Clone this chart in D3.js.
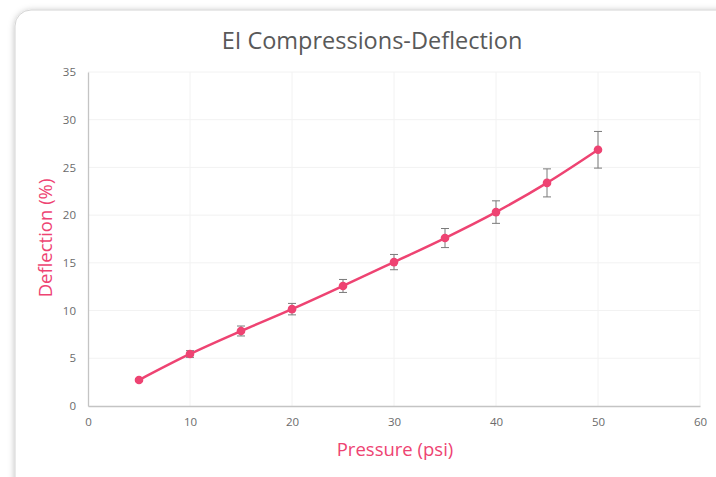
<!DOCTYPE html>
<html><head><meta charset="utf-8">
<script src="https://cdn.jsdelivr.net/npm/d3@7"></script>
<style>
html,body{margin:0;padding:0;background:#ffffff;}
svg{display:block;}
</style></head>
<body>
<svg id="chart" width="716" height="477"></svg>
<script>
const pressure = [5, 10, 15, 20, 25, 30, 35, 40, 45, 50];
const deflection = [2.72, 5.45, 7.86, 10.15, 12.58, 15.08, 17.6, 20.32, 23.38, 26.85];
const errorBar = [0.15, 0.35, 0.52, 0.6, 0.68, 0.8, 1.0, 1.18, 1.47, 1.92];
const xTicks = [0, 10, 20, 30, 40, 50, 60];
const yTicks = [0, 5, 10, 15, 20, 25, 30, 35];
const title = "EI Compressions-Deflection";
const xTitle = "Pressure (psi)";
const yTitle = "Deflection (%)";

const svg = d3.select("#chart");
const font = "'Open Sans', sans-serif";
const pink = "#ee4372";

// card with shadow
const defs = svg.append("defs");
const f = defs.append("filter").attr("id","sh").attr("x","-10%").attr("y","-10%").attr("width","130%").attr("height","130%");
f.append("feDropShadow").attr("dx",0).attr("dy",1).attr("stdDeviation",3).attr("flood-color","#000").attr("flood-opacity",0.25);
svg.append("rect").attr("x",15).attr("y",10).attr("width",740).attr("height",500).attr("rx",16)
  .attr("fill","#fff").attr("stroke","#d4d4d4").attr("stroke-width",1).attr("filter","url(#sh)");

const x = d3.scaleLinear().domain([0,60]).range([88,700]);
const y = d3.scaleLinear().domain([0,35]).range([406,72]);

// gridlines
svg.append("g").selectAll("line.gy").data(yTicks.slice(1)).join("line")
  .attr("x1",x(0)).attr("x2",x(60)).attr("y1",d=>y(d)).attr("y2",d=>y(d))
  .attr("stroke","#f2f2f2").attr("stroke-width",1);
svg.append("g").selectAll("line.gx").data(xTicks.slice(1)).join("line")
  .attr("y1",y(0)).attr("y2",y(35)).attr("x1",d=>x(d)).attr("x2",d=>x(d))
  .attr("stroke","#f2f2f2").attr("stroke-width",1);

// axes
const xAxis = svg.append("g").attr("transform",`translate(0,${y(0)})`)
  .call(d3.axisBottom(x).tickValues(xTicks).tickSize(0).tickPadding(12));
const yAxis = svg.append("g").attr("transform",`translate(${x(0)},0)`)
  .call(d3.axisLeft(y).tickValues(yTicks).tickSize(0).tickPadding(12));
[xAxis,yAxis].forEach(a=>{
  a.select(".domain").attr("stroke","#c4c4c4").attr("stroke-width",1.3);
  a.selectAll("text").attr("fill","#6b6b6b").style("font-family",font).style("font-size","11.5px");
});

// line
const pts = pressure.map((p,i)=>({p, d:deflection[i], e:errorBar[i]}));
svg.append("path").datum(pts)
  .attr("d", d3.line().x(d=>x(d.p)).y(d=>y(d.d)).curve(d3.curveCatmullRom.alpha(0.5)))
  .attr("fill","none").attr("stroke",pink).attr("stroke-width",2.5);

// error bars
const eb = svg.append("g").attr("stroke","#7a7a7a").attr("stroke-width",1);
eb.selectAll("line.v").data(pts).join("line")
  .attr("x1",d=>x(d.p)).attr("x2",d=>x(d.p)).attr("y1",d=>y(d.d-d.e)).attr("y2",d=>y(d.d+d.e));
eb.selectAll("line.t").data(pts).join("line")
  .attr("x1",d=>x(d.p)-4).attr("x2",d=>x(d.p)+4).attr("y1",d=>y(d.d+d.e)).attr("y2",d=>y(d.d+d.e));
eb.selectAll("line.b").data(pts).join("line")
  .attr("x1",d=>x(d.p)-4).attr("x2",d=>x(d.p)+4).attr("y1",d=>y(d.d-d.e)).attr("y2",d=>y(d.d-d.e));

// markers
svg.append("g").selectAll("circle").data(pts).join("circle")
  .attr("cx",d=>x(d.p)).attr("cy",d=>y(d.d)).attr("r",4.3).attr("fill",pink);

// titles
svg.append("text").attr("x",372).attr("y",49).attr("text-anchor","middle")
  .style("font-family",font).style("font-size","23.5px").attr("fill","#595959").text(title);
svg.append("text").attr("x",395).attr("y",456).attr("text-anchor","middle")
  .style("font-family",font).style("font-size","18.5px").attr("fill",pink).text(xTitle);
svg.append("text").attr("transform","translate(52,238) rotate(-90)").attr("text-anchor","middle")
  .style("font-family",font).style("font-size","18.5px").attr("fill",pink).text(yTitle);
</script>
</body></html>
